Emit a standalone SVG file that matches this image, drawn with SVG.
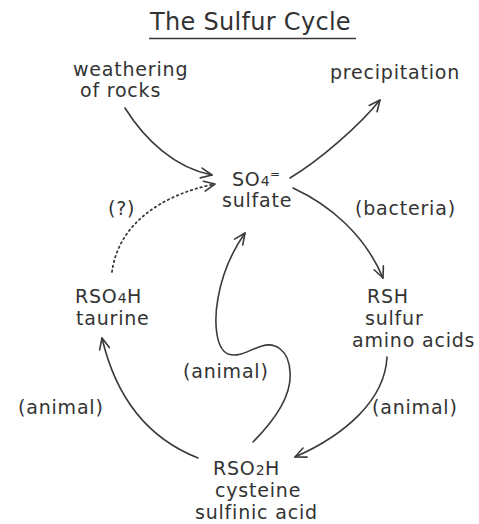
<svg xmlns="http://www.w3.org/2000/svg" width="479" height="524" viewBox="0 0 479 524">
<style>
text{font-family:"DejaVu Sans","Liberation Sans",sans-serif;font-size:19px;letter-spacing:0.8px;fill:#333}
.t{font-size:24px;letter-spacing:0.3px}
.sub{font-size:14px;letter-spacing:0.5px}
.sup{font-size:12px}
.c{fill:none;stroke:#3a3a3a;stroke-width:1.6;stroke-linecap:round}
.d{stroke-dasharray:1.5 3.5;stroke-width:1.8}
</style>
<defs>
<marker id="ah" markerUnits="userSpaceOnUse" markerWidth="20" markerHeight="20" refX="0" refY="0" orient="auto" overflow="visible">
<path d="M-11,-5 L0,0 L-11,5" fill="none" stroke="#3a3a3a" stroke-width="1.6" stroke-linecap="round" stroke-linejoin="round"/>
</marker>
</defs>
<rect width="479" height="524" fill="#fff"/>
<g id="title">
<text class="t" x="150" y="30">The Sulfur Cycle</text>
<line x1="149" y1="38.5" x2="356" y2="38.5" stroke="#3a3a3a" stroke-width="1.5"/>
</g>
<g id="weathering">
<text x="73" y="76">weathering</text>
<text x="80" y="97">of rocks</text>
</g>
<g id="precipitation">
<text x="330" y="79">precipitation</text>
</g>
<g id="sulfate">
<text x="232" y="186">SO<tspan class="sub">4</tspan><tspan class="sup" dy="-8">=</tspan></text>
<text x="222" y="207">sulfate</text>
</g>
<g id="rsh">
<text x="367" y="303">RSH</text>
<text x="365" y="325">sulfur</text>
<text x="352" y="347">amino acids</text>
</g>
<g id="taurine">
<text x="75" y="303">RSO<tspan class="sub">4</tspan>H</text>
<text x="76" y="325">taurine</text>
</g>
<g id="cysteine">
<text x="213" y="475">RSO<tspan class="sub">2</tspan>H</text>
<text x="215" y="497">cysteine</text>
<text x="195" y="519">sulfinic acid</text>
</g>
<g id="connectors">
<path class="c" d="M125 108 C145 140,175 168,212 175" marker-end="url(#ah)"/>
<path class="c" d="M290 178 C320 160,360 125,380 100" marker-end="url(#ah)"/>
<path class="c" d="M293 188 C330 205,365 235,383 278" marker-end="url(#ah)"/>
<path class="c d" d="M112 272 C118 225,160 195,215 184" marker-end="url(#ah)"/>
<path class="c" d="M253 442 C275 420,292 395,290 372 C289 350,275 342,262 346 C248 350,240 358,228 354 C215 348,214 320,218 298 C223 270,233 250,245 233" marker-end="url(#ah)"/>
<path class="c" d="M198 458 C165 445,120 415,102 338" marker-end="url(#ah)"/>
<path class="c" d="M387 357 C385 400,345 435,295 457" marker-end="url(#ah)"/>
<text x="355" y="215">(bacteria)</text>
<text x="108" y="215">(?)</text>
<text x="183" y="378">(animal)</text>
<text x="18" y="414">(animal)</text>
<text x="372" y="414">(animal)</text>
</g>
</svg>
